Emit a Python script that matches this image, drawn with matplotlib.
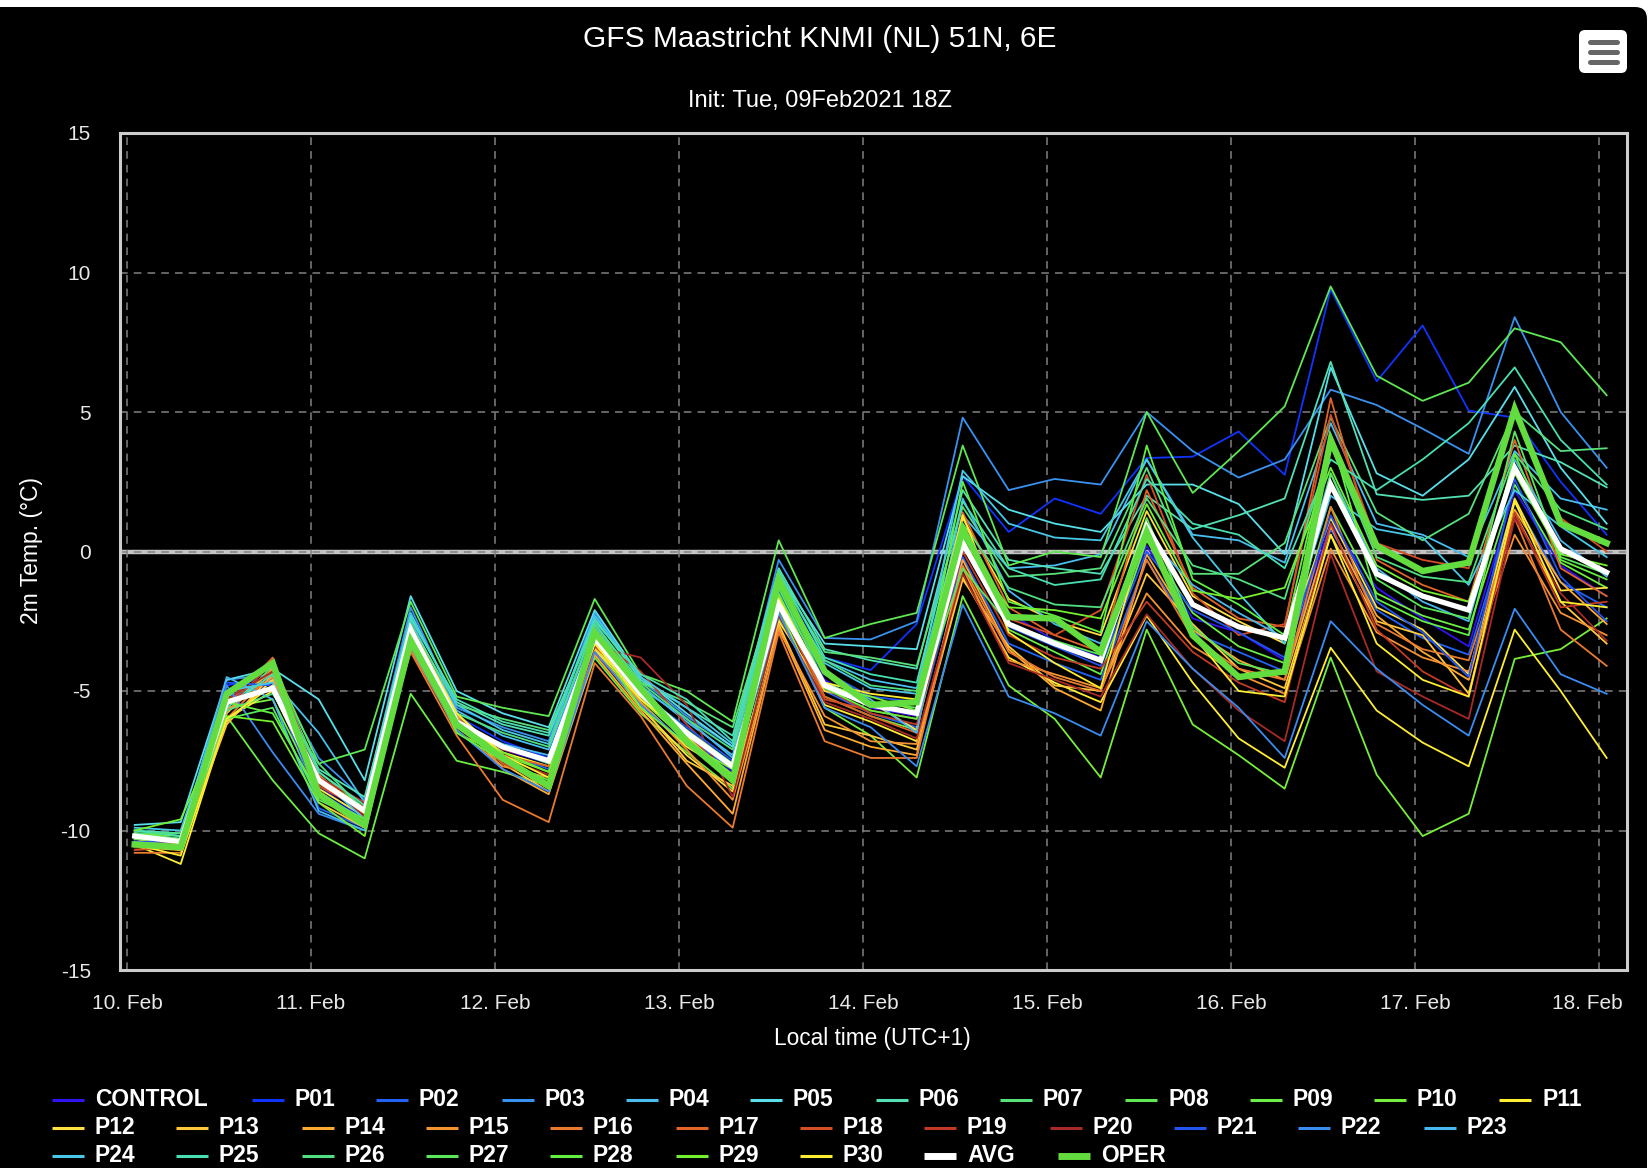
# GFS ensemble 2m temperature, Maastricht
import numpy as np
import pandas as pd
import matplotlib
matplotlib.use('Agg')
import matplotlib.pyplot as plt
import matplotlib.dates as mdates
from matplotlib.patches import FancyBboxPatch
from matplotlib.lines import Line2D
from matplotlib.transforms import IdentityTransform, ScaledTranslation

plt.rcParams['font.family'] = ['Liberation Sans', 'DejaVu Sans']
plt.rcParams['axes.unicode_minus'] = False

# tempos (hora local, de 6 em 6 horas)
times = pd.date_range('2021-02-10 01:00', periods=33, freq='6h')

# membros do ensemble (2m temp, graus C)
CONTROL = [-10.3, -10.5, -5.5, -4.7, -8.4, -9.6, -2.9, -6.0, -7.1, -7.6, -3.0, -5.2, -6.6, -7.9, -1.5, -4.6, -5.6, -5.9, 0.6, -2.2, -3.2, -3.8, 0.2, -2.4, -2.9, -3.9, 1.0, -1.3, -2.4, -3.4, 2.2, -0.5, -1.6]
P01 = [-10.3, -10.6, -4.8, -4.5, -8.6, -9.6, -2.4, -5.9, -6.8, -7.4, -2.5, -5.0, -6.4, -7.6, -0.8, -3.8, -4.25, -2.6, 2.7, 0.7, 1.9, 1.35, 3.35, 3.4, 4.3, 2.75, 9.4, 6.1, 8.1, 5.05, 4.8, 2.5, 0.6]
P02 = [-10.4, -10.5, -5.3, -4.6, -9.2, -9.9, -3.0, -6.2, -7.2, -7.8, -3.2, -5.3, -6.7, -7.8, -1.8, -5.0, -5.8, -6.3, -0.2, -3.3, -4.0, -4.6, -0.3, -2.9, -3.6, -4.3, 0.8, -2.1, -3.1, -3.7, 1.8, -1.1, -2.0]
P03 = [-10.0, -10.2, -4.6, -4.4, -7.4, -8.9, -2.0, -5.6, -6.3, -6.8, -2.2, -4.6, -5.9, -7.0, -0.3, -3.1, -3.15, -2.5, 4.8, 2.2, 2.6, 2.4, 5.0, 3.6, 2.65, 3.3, 5.8, 5.25, 4.4, 3.5, 8.4, 5.0, 3.0]
P04 = [-10.1, -10.3, -5.2, -4.6, -6.5, -9.0, -2.5, -5.7, -6.6, -7.1, -2.7, -4.8, -6.1, -7.3, -1.2, -3.9, -4.6, -4.9, 1.3, -0.6, -0.5, -0.1, 3.3, 0.6, 0.4, -0.4, 4.6, 1.0, 0.6, -0.2, 3.6, 1.9, 1.5]
P05 = [-9.8, -9.7, -4.6, -4.2, -5.3, -8.2, -1.6, -5.0, -5.8, -6.3, -2.1, -4.5, -5.8, -7.0, -0.8, -3.3, -3.4, -3.5, 2.7, 1.5, 1.0, 0.7, 2.4, 2.4, 1.7, -0.1, 6.6, 2.8, 2.0, 3.3, 5.9, 3.0, 1.0]
P06 = [-10.0, -10.1, -5.5, -4.3, -7.8, -8.8, -2.3, -5.4, -6.2, -6.6, -2.4, -4.6, -5.6, -6.6, -0.6, -3.5, -3.9, -4.2, 2.2, -0.3, -0.6, -0.8, 2.0, 0.8, 1.3, 1.9, 6.8, 2.05, 1.85, 2.0, 3.8, 3.2, 2.3]
P07 = [-10.2, -10.4, -5.8, -4.1, -7.9, -9.2, -2.6, -5.5, -6.0, -6.4, -2.6, -4.7, -5.4, -6.3, -0.9, -3.6, -3.8, -4.1, 1.6, -0.9, -0.8, -0.6, 3.0, -0.8, -0.8, 0.3, 4.8, 1.4, 0.4, 1.35, 5.0, 3.6, 3.7]
P08 = [-10.1, -10.3, -5.0, -4.0, -7.6, -7.1, -1.8, -5.2, -5.6, -5.9, -1.7, -4.4, -5.0, -6.1, 0.4, -3.1, -2.6, -2.2, 3.8, -0.5, 0.0, -0.2, 5.0, 2.1, 3.6, 5.2, 9.5, 6.3, 5.4, 6.05, 8.0, 7.5, 5.6]
P09 = [-10.1, -10.2, -5.9, -8.2, -10.1, -11.0, -5.1, -7.5, -7.9, -8.4, -3.8, -5.8, -7.2, -8.5, -2.4, -5.2, -5.9, -6.4, 0.5, -2.8, -3.6, -4.4, 0.4, -2.2, -3.4, -4.0, 1.6, -1.5, -2.3, -2.8, 2.4, -0.4, -1.3]
P10 = [-10.4, -10.7, -5.6, -5.3, -8.6, -9.7, -3.2, -6.5, -7.3, -7.9, -3.5, -5.3, -6.8, -8.0, -2.0, -5.6, -6.6, -8.1, -1.6, -4.8, -6.0, -8.1, -2.8, -6.2, -7.3, -8.5, -3.8, -8.0, -10.2, -9.4, -3.85, -3.5, -2.4]
P11 = [-10.5, -11.2, -6.0, -5.0, -8.5, -9.5, -2.6, -6.0, -7.2, -7.7, -3.4, -5.4, -7.0, -8.0, -2.2, -5.5, -6.1, -6.8, -0.9, -3.8, -4.7, -5.4, -2.3, -4.7, -6.7, -7.75, -3.45, -5.7, -6.85, -7.7, -2.8, -5.0, -7.4]
P12 = [-10.3, -10.6, -6.1, -4.6, -8.8, -9.9, -2.7, -5.8, -7.5, -8.5, -3.5, -5.6, -7.3, -8.6, -2.5, -5.0, -5.4, -6.4, 1.2, -1.7, -2.5, -3.0, 1.45, -1.6, -2.5, -3.3, 1.2, -2.0, -2.8, -4.4, 1.9, -1.4, -1.3]
P13 = [-10.6, -10.7, -6.2, -4.4, -9.0, -9.9, -3.3, -6.2, -7.6, -8.6, -3.3, -5.5, -7.5, -8.4, -2.6, -6.2, -6.6, -7.1, -1.0, -3.4, -4.8, -5.0, -0.8, -2.6, -4.2, -4.9, 0.6, -2.5, -3.0, -5.1, 1.4, -1.8, -3.3]
P14 = [-10.2, -10.5, -5.8, -4.2, -8.1, -9.2, -3.4, -5.9, -7.8, -8.7, -3.7, -5.7, -7.6, -9.4, -2.7, -6.4, -7.0, -7.3, -0.3, -3.5, -4.9, -5.7, -0.1, -2.8, -3.9, -4.6, 0.9, -2.3, -3.6, -4.6, 1.5, -1.1, -2.6]
P15 = [-10.5, -10.4, -5.7, -4.5, -8.3, -9.4, -3.5, -6.4, -7.7, -8.1, -3.6, -5.4, -7.1, -8.9, -2.8, -5.9, -6.8, -6.9, -0.6, -3.9, -4.4, -4.9, -1.5, -3.4, -4.4, -5.1, 0.1, -2.9, -3.8, -4.3, 0.6, -2.2, -3.0]
P16 = [-10.8, -10.8, -6.0, -4.3, -8.0, -9.4, -3.6, -6.6, -8.9, -9.7, -4.0, -5.9, -8.4, -9.9, -2.9, -6.8, -7.4, -7.4, -0.5, -3.6, -4.5, -5.0, -0.3, -3.1, -4.2, -4.6, 1.6, -2.6, -3.5, -3.9, 1.2, -2.8, -4.1]
P17 = [-10.6, -10.3, -5.5, -3.8, -8.3, -9.2, -3.0, -6.3, -7.3, -7.7, -3.3, -4.9, -6.7, -8.0, -1.7, -5.2, -5.9, -6.5, 1.4, -2.0, -3.0, -3.6, 2.2, -1.3, -2.4, -2.7, 5.5, -0.3, -1.2, -1.8, 4.0, -0.6, -1.6]
P18 = [-10.7, -10.6, -5.4, -3.9, -8.4, -9.3, -3.2, -6.1, -7.6, -8.3, -3.4, -5.0, -6.5, -8.2, -1.9, -5.3, -5.7, -6.0, 0.9, -2.4, -3.0, -2.1, 2.75, -1.5, -3.0, -2.6, 4.9, 0.3, -0.3, -0.6, 5.2, 1.2, 0.0]
P19 = [-10.5, -10.5, -5.6, -4.0, -8.1, -9.0, -3.3, -6.0, -7.1, -7.5, -3.1, -4.3, -6.2, -7.8, -2.0, -4.9, -5.8, -6.2, 0.0, -3.0, -3.8, -4.2, -1.8, -3.6, -4.7, -5.4, 1.0, -2.8, -4.3, -5.2, 1.4, -2.0, -1.8]
P20 = [-10.6, -10.5, -5.3, -4.3, -8.2, -9.5, -3.1, -6.3, -7.4, -8.0, -3.4, -3.8, -5.5, -8.8, -2.3, -5.4, -6.0, -6.7, -0.8, -4.0, -4.6, -5.2, -2.25, -4.2, -5.7, -6.8, -0.1, -4.3, -5.2, -6.0, 1.2, -1.5, -3.2]
P21 = [-10.4, -10.4, -4.7, -4.8, -8.8, -9.8, -2.6, -6.1, -7.0, -7.5, -2.8, -5.1, -6.3, -7.5, -1.4, -4.3, -5.2, -5.4, 0.8, -2.7, -3.4, -4.1, 0.0, -2.1, -2.9, -3.8, 1.3, -1.8, -2.9, -4.5, 2.6, -0.9, -2.5]
P22 = [-10.4, -10.6, -4.8, -7.2, -9.4, -10.0, -3.4, -6.4, -7.8, -8.6, -3.6, -5.5, -6.9, -8.1, -2.2, -5.6, -6.3, -7.7, -1.9, -5.2, -5.8, -6.6, -2.5, -4.2, -5.6, -7.4, -2.5, -4.2, -5.5, -6.6, -2.05, -4.4, -5.1]
P23 = [-10.2, -10.3, -4.5, -5.3, -9.3, -10.0, -2.9, -6.2, -6.9, -7.3, -2.9, -4.9, -6.0, -7.4, -1.6, -4.4, -5.3, -6.5, 1.9, -1.4, -2.6, -3.3, 0.6, -1.2, -2.2, -3.1, 2.8, -0.6, -1.8, -2.5, 3.3, 0.4, -0.9]
P24 = [-9.9, -10.0, -5.0, -4.7, -8.1, -9.6, -2.2, -5.5, -6.4, -6.9, -2.3, -4.5, -5.6, -6.9, -1.0, -4.0, -4.9, -5.1, 2.9, 1.0, 0.5, 0.4, 3.3, 0.5, -1.5, -3.3, 2.0, 0.8, 0.5, -1.2, 2.2, 0.9, -0.2]
P25 = [-10.0, -10.2, -5.6, -4.4, -7.9, -9.1, -2.4, -5.3, -6.1, -6.5, -2.5, -4.4, -5.3, -6.8, -0.7, -3.8, -4.4, -4.7, 1.8, -0.6, -1.2, -1.0, 2.6, 1.0, 0.6, -0.6, 3.3, 2.2, 3.3, 4.6, 6.6, 4.0, 2.4]
P26 = [-10.1, -10.1, -5.7, -5.1, -7.6, -9.3, -2.9, -5.8, -6.5, -7.0, -2.6, -4.7, -6.0, -7.1, -1.1, -3.9, -4.8, -5.0, 1.0, -1.3, -1.9, -2.0, 1.9, -0.5, -1.0, -1.7, 3.8, -0.2, -0.9, -1.1, 3.5, 1.5, 0.8]
P27 = [-10.3, -10.4, -6.0, -5.6, -8.9, -9.7, -3.1, -6.3, -7.0, -7.6, -3.0, -5.0, -6.4, -7.6, -1.3, -4.7, -5.4, -5.6, -0.6, -2.6, -3.2, -3.7, 1.2, -2.7, -4.0, -4.4, 2.8, -1.0, -2.0, -2.4, 4.3, -0.2, -0.8]
P28 = [-10.2, -10.3, -5.4, -5.8, -8.7, -9.6, -2.6, -6.5, -7.5, -8.2, -2.9, -5.2, -6.7, -8.0, -1.5, -4.9, -5.7, -6.0, 2.5, -1.8, -2.3, -2.9, 3.8, -1.0, -1.9, -3.0, 4.2, -1.7, -2.5, -3.0, 3.5, -0.3, -1.0]
P29 = [-10.0, -9.6, -5.9, -6.1, -9.0, -10.2, -3.0, -6.2, -7.2, -7.9, -3.2, -5.6, -6.9, -7.8, -1.6, -4.8, -5.2, -5.7, 0.3, -2.0, -2.1, -2.4, 1.7, -1.4, -1.7, -1.3, 3.0, -0.5, -1.4, -1.8, 2.8, -0.1, -0.5]
P30 = [-10.5, -10.9, -6.0, -4.8, -8.6, -9.8, -2.7, -5.8, -7.3, -8.1, -3.3, -5.3, -6.6, -8.3, -1.7, -4.7, -5.1, -5.3, 1.3, -2.9, -4.0, -4.9, 1.0, -3.0, -5.0, -5.2, 0.6, -3.3, -4.6, -5.2, 1.8, -1.8, -2.0]

AVG = [-10.2, -10.4, -5.4, -4.9, -8.2, -9.3, -2.8, -6.1, -7.0, -7.5, -3.1, -5.1, -6.5, -7.7, -1.9, -4.8, -5.5, -5.8, 0.3, -2.6, -3.3, -3.9, 0.9, -1.9, -2.7, -3.1, 2.4, -0.8, -1.6, -2.1, 3.0, 0.1, -0.75]
OPER = [-10.5, -10.6, -5.1, -4.0, -8.7, -9.8, -3.2, -6.2, -7.4, -8.4, -2.9, -4.9, -6.8, -8.2, -1.0, -4.3, -5.5, -5.4, 0.8, -2.35, -2.4, -3.6, 0.7, -3.0, -4.5, -4.3, 4.0, 0.2, -0.7, -0.4, 5.1, 1.0, 0.3]

members = [CONTROL, P01, P02, P03, P04, P05, P06, P07, P08, P09, P10,
           P11, P12, P13, P14, P15, P16, P17, P18, P19, P20,
           P21, P22, P23, P24, P25, P26, P27, P28, P29, P30]
names = ['CONTROL'] + ['P%02d' % k for k in range(1, 31)]
cores = ['#3014f0', '#1034ff', '#2262f6', '#3a92f0', '#48bff0', '#58dfea', '#52e0b4',
         '#58e07a', '#60e854', '#6cee44', '#78ee3c', '#ffee33', '#ffe040', '#ffc83c',
         '#ffaa30', '#f59232', '#ea7a30', '#e26428', '#d44e26', '#c23a26', '#a82a26',
         '#2254f0', '#3a8cf0', '#4ab8f0', '#48c8e8', '#48dfb2', '#50e082', '#5ae85a',
         '#62f040', '#74f030', '#ffee30']
cor_oper = '#62dc3e'

W, H = 1652, 1168
fig = plt.figure(figsize=(W / 100, H / 100), dpi=100)
fig.patch.set_facecolor('white')

# fundo preto com canto arredondado (atras dos eixos)
fundo = FancyBboxPatch((-40, -40), 1647 + 40, 1161 + 40,
                       boxstyle='round,pad=0,rounding_size=12',
                       transform=IdentityTransform(), facecolor='black', edgecolor='none',
                       zorder=-10)
fig.add_artist(fundo)

ax = fig.add_axes([120 / W, 1 - 970 / H, (1627 - 120) / W, (970 - 133) / H])
ax.set_facecolor('black')
ax.set_zorder(1)

for vals, c in zip(members, cores):
    ax.plot(times, vals, color=c, lw=1.3, zorder=3)
ax.plot(times, AVG, color='white', lw=3.8, zorder=4, solid_joinstyle='miter')
ax.plot(times, OPER, color=cor_oper, lw=4.6, zorder=5, solid_joinstyle='miter')

ax.axhline(0, color='#c4c4c4', lw=3.2, zorder=1)

ax.set_ylim(-15, 15)
ax.set_yticks(np.arange(-15, 16, 5))
ax.set_xlim(pd.Timestamp('2021-02-09 23:05'), pd.Timestamp('2021-02-18 03:39'))
ax.xaxis.set_major_locator(mdates.DayLocator())
ax.xaxis.set_major_formatter(mdates.DateFormatter('%d. %b'))

ax.grid(True, color='#808080', lw=1.1, linestyle=(0, (5, 4)))
for gl in ax.get_xgridlines() + ax.get_ygridlines():
    gl.set_zorder(2)

for s in ax.spines.values():
    s.set_color('#cccccc')
    s.set_linewidth(2.2)
    s.set_zorder(6)

ax.tick_params(axis='both', length=0, colors='#e8e8e8', labelsize=15)
ax.tick_params(axis='y', pad=21)
ax.tick_params(axis='x', pad=17)

# o ultimo rotulo fica empurrado para dentro, como no original
fig.canvas.draw()
ultimo = ax.get_xticklabels()[-1]
ultimo.set_transform(ultimo.get_transform() + ScaledTranslation(-0.12, 0, fig.dpi_scale_trans))

# textos
fig.text(820 / W, 1 - 39 / H, 'GFS Maastricht KNMI (NL) 51N, 6E', color='white',
         fontsize=21.5, ha='center', va='center')
fig.text(820 / W, 1 - 101 / H, 'Init: Tue, 09Feb2021 18Z', color='white',
         fontsize=17, ha='center', va='center')
fig.text(32 / W, 1 - 551 / H, '2m Temp. (°C)', color='white', fontsize=16.5,
         rotation=90, ha='center', va='center')
fig.text(872 / W, 1 - 1038 / H, 'Local time (UTC+1)', color='white', fontsize=16.3,
         ha='center', va='center')

# botao de menu
botao = FancyBboxPatch((1579, H - 73), 48, 43, boxstyle='round,pad=0,rounding_size=6',
                       transform=IdentityTransform(), facecolor='white', edgecolor='none')
fig.add_artist(botao)
for yb in [42, 52, 62]:
    fig.add_artist(Line2D([1590, 1617], [H - yb, H - yb], transform=IdentityTransform(),
                          color='#666666', lw=3.6, solid_capstyle='round'))

# legenda feita a mao
lin1 = [95, 295, 419, 545, 669, 793, 919, 1043, 1168, 1293, 1417, 1542]
lin2 = [95, 219, 345, 469, 593, 719, 843, 967, 1093, 1217, 1341, 1467]
lin3 = [95, 219, 345, 469, 593, 719, 843, 967, 1101]
itens = list(zip(names, cores)) + [('AVG', 'white'), ('OPER', cor_oper)]
posicoes = [(x, 1100) for x in lin1] + [(x, 1128) for x in lin2] + [(x, 1156) for x in lin3]
for (nome, c), (xt, yt) in zip(itens, posicoes):
    grosso = nome in ('AVG', 'OPER')
    fig.add_artist(Line2D([xt - 43, xt - 11], [H - yt, H - yt], transform=IdentityTransform(),
                          color=c, lw=5 if grosso else 2.2, solid_capstyle='butt'))
    fig.text(xt, H - yt, nome, transform=IdentityTransform(), color='white',
             fontsize=16.5, fontweight='bold', ha='left', va='center')

fig.savefig('out.png', dpi=100, facecolor=fig.get_facecolor())
